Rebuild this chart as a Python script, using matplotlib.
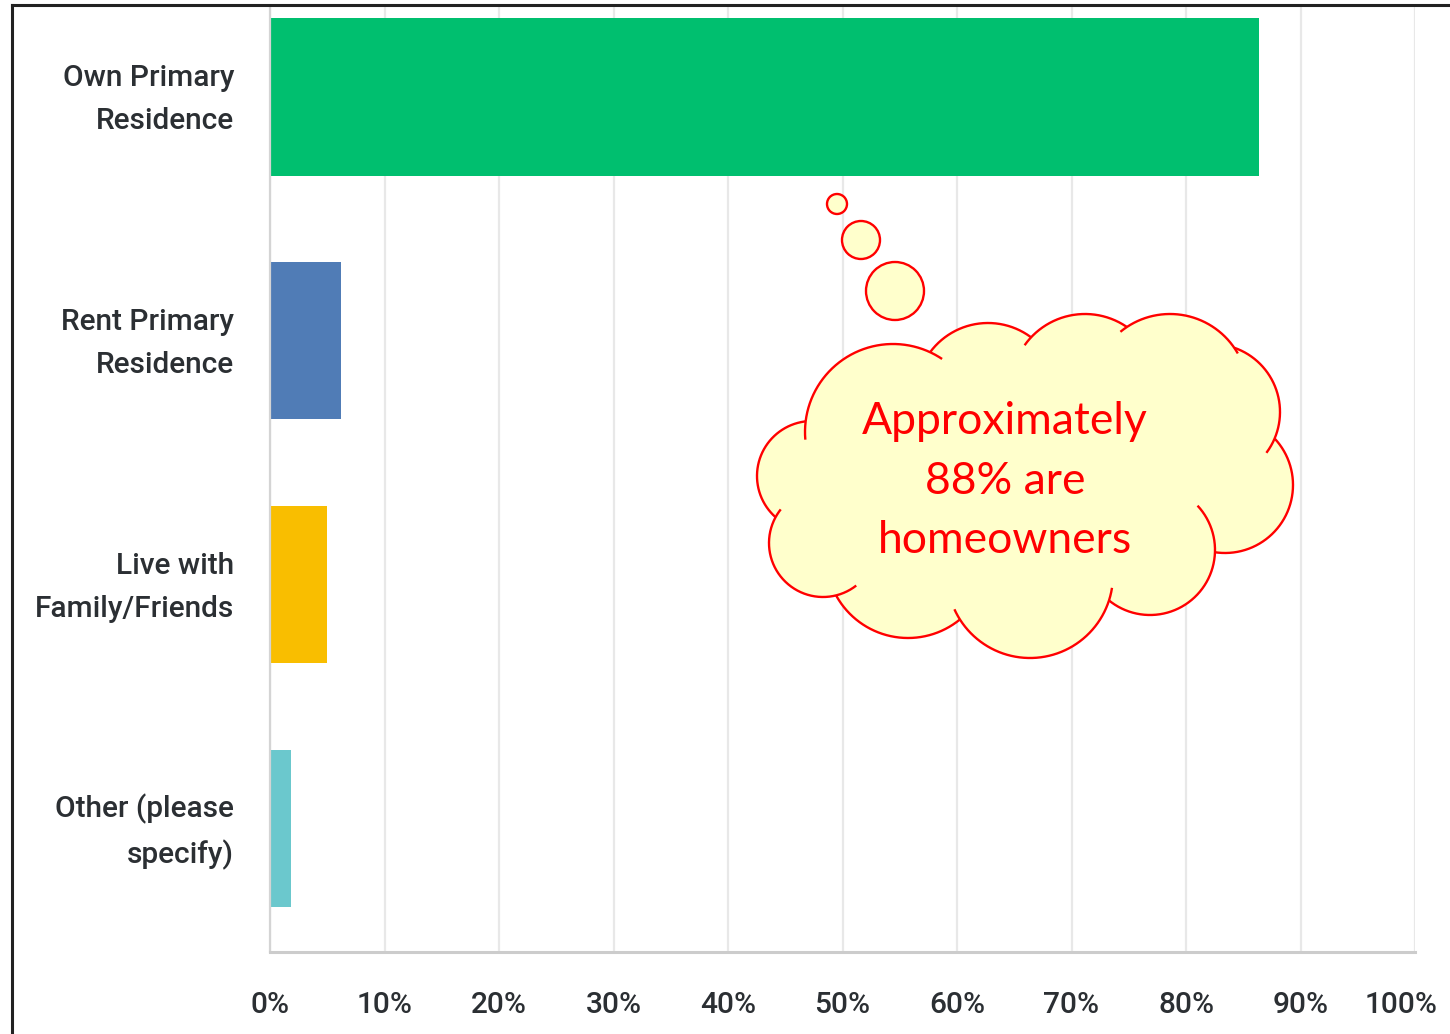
import numpy as np
import matplotlib
matplotlib.use("Agg")
import matplotlib.pyplot as plt
from matplotlib.patches import Circle, Polygon
from matplotlib.lines import Line2D
from matplotlib.path import Path
import matplotlib.transforms as mtransforms

# survey answers and share of respondents (%)
categories = ["Own Primary\nResidence", "Rent Primary\nResidence",
              "Live with\nFamily/Friends", "Other (please\nspecify)"]
shares = [86.4, 6.2, 5.0, 1.8]
bar_colors = ["#00BF6F", "#507CB6", "#F9BE00", "#6BC8CD"]
x_ticks = list(range(0, 101, 10))
x_tick_labels = [f"{t}%" for t in x_ticks]
note = "Approximately\n88% are\nhomeowners"

LABEL_FONT = ["Roboto", "DejaVu Sans"]
TEXT_COLOR = "#2b2f33"

W, H = 1450, 1034
fig = plt.figure(figsize=(W / 100, H / 100), dpi=100)
fig.patch.set_facecolor("white")

# main bar chart
ax = fig.add_axes([270 / W, (H - 952) / H, 1145 / W, 946 / H])
ypos = np.arange(len(categories))
ax.barh(ypos, shares, height=0.644, color=bar_colors, zorder=2)
ax.set_xlim(0, 100)
ax.set_ylim(3.5066, -0.3732)

ax.set_xticks(x_ticks)
ax.set_xticklabels(x_tick_labels)
ax.set_yticks(ypos)
ax.set_yticklabels(categories, linespacing=1.66)
for lab in ax.get_yticklabels() + ax.get_xticklabels():
    lab.set_family(LABEL_FONT)
    lab.set_fontsize(21.5)
    lab.set_fontweight("medium")
    lab.set_color(TEXT_COLOR)
ax.tick_params(axis="y", length=0, pad=26)
ax.tick_params(axis="x", length=0, pad=28)
# category labels sit centred on their bars
lift = mtransforms.ScaledTranslation(0, 0.075, fig.dpi_scale_trans)
for lab in ax.get_yticklabels():
    lab.set_transform(lab.get_transform() + lift)
# pull the last percentage label back inside the frame
last = ax.get_xticklabels()[-1]
last.set_transform(last.get_transform() +
                   mtransforms.ScaledTranslation(-0.14, 0, fig.dpi_scale_trans))

ax.grid(axis="x", color="#e8e8e8", linewidth=1.6, zorder=0)
ax.set_axisbelow(True)
for side in ["top", "right"]:
    ax.spines[side].set_visible(False)
ax.spines["left"].set_color("#d4d4d4")
ax.spines["left"].set_linewidth(1.6)
ax.spines["bottom"].set_color("#cccccc")
ax.spines["bottom"].set_linewidth(2.2)

# black frame along the left and top edges
fig.add_artist(Line2D([12 / W, 12 / W], [0, 1 - 5 / H], color="#222222",
                      linewidth=2.2, transform=fig.transFigure))
fig.add_artist(Line2D([12 / W, 1], [1 - 5 / H, 1 - 5 / H], color="#222222",
                      linewidth=2.2, transform=fig.transFigure))

# overlay in pixel units for the thought cloud
ov = fig.add_axes([0, 0, 1, 1])
ov.set_xlim(0, W)
ov.set_ylim(H, 0)
ov.axis("off")

FILL = "#FFFFCC"
RED = "#FF0000"

# cloud bumps: centre x, centre y, radius, stub at ccw end, stub at cw end
bumps = [
    (893, 432, 88, 12, 9),
    (988, 395, 72, 0, 0),
    (1085, 388, 74, 8, 0),
    (1170, 392, 78, 6, 5),
    (1212, 412, 68, 0, 14),
    (1225, 485, 68, 0, 0),
    (1150, 550, 65, 45, 0),
    (1030, 575, 83, 9, 8),
    (908, 556, 82, 0, 0),
    (823, 543, 54, 24, 10),
    (812, 476, 55, 0, 0),
]

centres = np.array([(b[0], b[1]) for b in bumps], dtype=float)
core = Path(np.vstack([centres, centres[:1]]), closed=True)
ov.add_patch(Polygon(centres, closed=True, facecolor=FILL, edgecolor="none", zorder=3))
for cx, cy, r, _, _ in bumps:
    ov.add_patch(Circle((cx, cy), r, facecolor=FILL, edgecolor="none", zorder=3))

theta = np.linspace(0, 360, 3600, endpoint=False)
for i, (cx, cy, r, ext_s, ext_e) in enumerate(bumps):
    px = cx + r * np.cos(np.radians(theta))
    py = cy + r * np.sin(np.radians(theta))
    visible = ~core.contains_points(np.column_stack([px, py]))
    for j, (ox, oy, orad, _, _) in enumerate(bumps):
        if j != i:
            visible &= np.hypot(px - ox, py - oy) > orad
    if not visible.any():
        continue
    # rotate so a hidden angle comes first, then keep the longest visible run
    shift = np.argmin(visible)
    vis = np.roll(visible, -shift).astype(int)
    th = np.roll(theta, -shift)
    edges = np.diff(np.concatenate([[0], vis, [0]]))
    starts = np.where(edges == 1)[0]
    ends = np.where(edges == -1)[0] - 1
    k = np.argmax(ends - starts)
    a0 = th[starts[k]]
    a1 = th[ends[k]]
    if a1 < a0:
        a1 += 360
    t = np.radians(np.linspace(a0 - ext_s, a1 + ext_e, 300))
    ov.plot(cx + r * np.cos(t), cy + r * np.sin(t), color=RED,
            linewidth=1.7, solid_capstyle="butt", zorder=4)

# trailing thought bubbles
for cx, cy, r in [(837, 204, 10), (861, 240, 19), (895, 291, 29)]:
    ov.add_patch(Circle((cx, cy), r, facecolor=FILL, edgecolor=RED,
                        linewidth=1.7, zorder=4))

ov.text(1005, 481, note, ha="center", va="center", color=RED,
        fontsize=32, family=["Lato", "DejaVu Sans"], linespacing=1.55, zorder=5)

fig.savefig("out.png", dpi=100)
